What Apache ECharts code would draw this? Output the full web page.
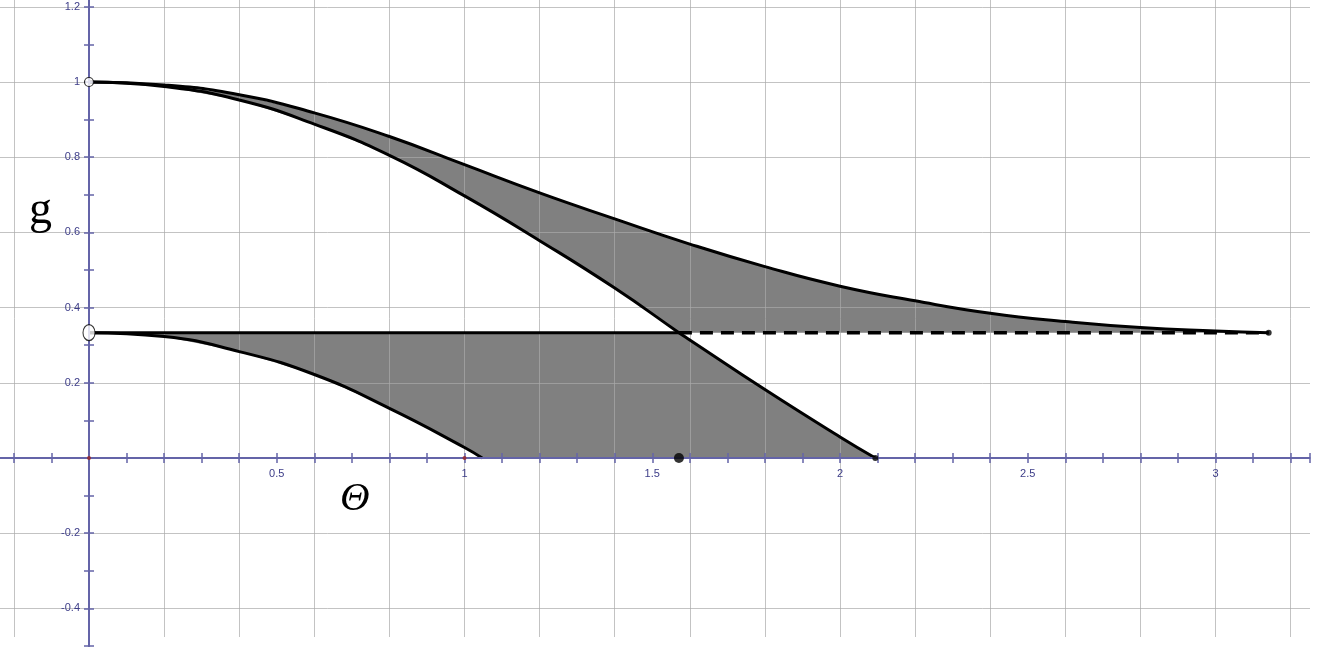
<!DOCTYPE html>
<html>
<head>
<meta charset="utf-8">
<title>g(θ)</title>
<script src="https://cdn.jsdelivr.net/npm/echarts@6/dist/echarts.min.js"></script>
<style>
  html, body { margin: 0; padding: 0; background: #fff; }
  #chart { width: 1321px; height: 648px; }
</style>
</head>
<body>
<div id="chart"></div>
<script>
// 读图得到的数据点
var thetaTop = [0, 0.2, 0.4, 0.6, 0.8, 1.0, 1.2, 1.4, 1.6, 1.8, 2.0, 2.2, 2.4, 2.6, 2.8, 3.0, 3.1416];
var gTop = [1.0, 0.992, 0.966, 0.918, 0.855, 0.780, 0.705, 0.636, 0.569, 0.509, 0.457, 0.418, 0.385, 0.363, 0.347, 0.338, 0.3333];

var thetaMid = [0, 0.2, 0.4, 0.6, 0.8, 1.0, 1.2, 1.4, 1.571, 1.6, 1.8, 2.0, 2.094];
var gMid = [1.0, 0.988, 0.952, 0.888, 0.805, 0.697, 0.578, 0.452, 0.3333, 0.314, 0.182, 0.056, 0];

var thetaLow = [0, 0.2, 0.4, 0.6, 0.8, 1.0, 1.047];
var gLow = [0.3333, 0.323, 0.283, 0.222, 0.132, 0.028, 0];

var thirdLevel = 0.3333;
var crossTheta = 1.571;
var endTheta = 3.1416;

// 点
var openPoints = [[0, 1]];
var openEllipse = [[0, 0.3333]];
var solidDot = [[1.571, 0]];
var endPoints = [[2.094, 0], [3.1416, 0.3333]];
var redPoints = [[0, 0], [1, 0]];

function pairs(xs, ys) {
    return xs.map(function (x, i) { return [x, ys[i]]; });
}

var topLine = pairs(thetaTop, gTop);
var midLine = pairs(thetaMid, gMid);
var lowLine = pairs(thetaLow, gLow);

// 上面的灰色区域：上曲线 -> 1/3 线 -> 中曲线（反向）
var upperShape = topLine.slice();
upperShape.push([crossTheta, thirdLevel]);
midLine.filter(function (p) { return p[0] < crossTheta; }).reverse().forEach(function (p) { upperShape.push(p); });

// 下面的灰色区域：1/3 线 -> 中曲线 -> x 轴 -> 下曲线（反向）
var lowerShape = [[0, thirdLevel], [crossTheta, thirdLevel]];
midLine.filter(function (p) { return p[0] > crossTheta; }).forEach(function (p) { lowerShape.push(p); });
lowLine.slice().reverse().forEach(function (p) { lowerShape.push(p); });

var chart = echarts.init(document.getElementById('chart'));

var axisColor = '#6464a8';
var labelColor = '#3c3c88';
var gridColor = 'rgba(170,170,170,0.7)';

function xLabel(v) {
    var r = Math.round(v * 10);
    return (r > 0 && r % 5 === 0) ? String(r / 10) : '';
}
function yLabel(v) {
    var r = Math.round(v * 10);
    return (r !== 0 && r % 2 === 0) ? String(r / 10) : '';
}

function shapeSeries(points) {
    return {
        type: 'custom',
        xAxisIndex: 0,
        yAxisIndex: 0,
        z: 1,
        silent: true,
        data: [[0, 0]],
        renderItem: function (params, api) {
            return {
                type: 'polygon',
                shape: { points: points.map(function (p) { return api.coord(p); }) },
                style: { fill: '#808080' }
            };
        }
    };
}

// 只画轴线和刻度的轴
function tickAxis(grid, pos, min, max) {
    return {
        type: 'value', gridIndex: grid, position: pos, min: min, max: max, interval: 0.1, z: 6,
        axisLine: { onZero: true, onZeroAxisIndex: 0, lineStyle: { color: axisColor, width: 2 } },
        axisTick: { inside: false, length: 5, lineStyle: { color: axisColor, width: 1.5 } },
        axisLabel: { show: false },
        splitLine: { show: false }
    };
}

// 只画文字的轴
function labelAxis(grid, pos, min, max, fmt, margin) {
    return {
        type: 'value', gridIndex: grid, position: pos, min: min, max: max, interval: 0.1, z: 6,
        axisLine: { show: false, onZero: false },
        axisTick: { show: false },
        axisLabel: { show: true, formatter: fmt, margin: margin, color: labelColor, fontSize: 11, fontFamily: 'Liberation Sans' },
        splitLine: { show: false }
    };
}

var option = {
    animation: false,
    backgroundColor: '#fff',
    grid: [
        // 主坐标系
        { left: -61.2, right: 11.6, top: -68.4, bottom: 2, outerBoundsMode: 'none' },
        // 横向网格线
        { left: 0, right: 11, top: -68.4, bottom: -35.6, outerBoundsMode: 'none' },
        // 纵向网格线
        { left: -61.2, right: -44.7, top: 0, bottom: 11, outerBoundsMode: 'none' },
        // x 轴文字，下边界在 y=0
        { left: -61.2, right: 11.6, top: 0, bottom: 190, outerBoundsMode: 'none' },
        // y 轴文字，左边界在 x=0
        { left: 89, right: 0, top: -68.4, bottom: 2, outerBoundsMode: 'none' }
    ],
    xAxis: [
        tickAxis(0, 'bottom', -0.4, 3.25),
        tickAxis(0, 'top', -0.4, 3.25),
        { type: 'value', gridIndex: 1, show: false, min: 0, max: 1 },
        {
            type: 'value', gridIndex: 2, min: -0.4, max: 3.4, interval: 0.2, z: 3,
            axisLine: { show: false }, axisTick: { show: false }, axisLabel: { show: false },
            splitLine: { show: true, lineStyle: { color: gridColor, width: 1 } }
        },
        labelAxis(3, 'bottom', -0.4, 3.25, xLabel, 10),
        { type: 'value', gridIndex: 4, show: false, min: 0, max: 1 }
    ],
    yAxis: [
        tickAxis(0, 'left', -0.5, 1.4),
        tickAxis(0, 'right', -0.5, 1.4),
        {
            type: 'value', gridIndex: 1, min: -0.6, max: 1.4, interval: 0.2, z: 3,
            axisLine: { show: false }, axisTick: { show: false }, axisLabel: { show: false },
            splitLine: { show: true, lineStyle: { color: gridColor, width: 1 } }
        },
        { type: 'value', gridIndex: 2, show: false, min: 0, max: 1 },
        { type: 'value', gridIndex: 3, show: false, min: 0, max: 1 },
        labelAxis(4, 'left', -0.5, 1.4, yLabel, 9)
    ],
    graphic: [
        { type: 'text', left: 29, top: 188, z: 10, style: { text: 'g', font: '46px "Liberation Serif"', fill: '#000' } },
        { type: 'text', left: 340, top: 479, z: 10, style: { text: 'Θ', font: 'italic 41px "Liberation Serif"', fill: '#000' } }
    ],
    series: [
        shapeSeries(upperShape),
        shapeSeries(lowerShape),
        {
            name: '上曲线', type: 'line', data: topLine, smooth: true, showSymbol: false, z: 5,
            lineStyle: { color: '#000', width: 3 }
        },
        {
            name: '中曲线', type: 'line', data: midLine, smooth: true, showSymbol: false, z: 5,
            lineStyle: { color: '#000', width: 3 }
        },
        {
            name: '下曲线', type: 'line', data: lowLine, smooth: true, showSymbol: false, z: 5,
            lineStyle: { color: '#000', width: 3 }
        },
        {
            name: '1/3 实线', type: 'line', data: [[0, thirdLevel], [crossTheta, thirdLevel]], showSymbol: false, z: 5,
            lineStyle: { color: '#000', width: 3 }
        },
        {
            name: '1/3 虚线', type: 'line', data: [[crossTheta, thirdLevel], [endTheta, thirdLevel]], showSymbol: false, z: 4,
            lineStyle: { color: '#000', width: 3.5, type: [13, 8] }
        },
        {
            type: 'scatter', data: redPoints, symbolSize: 4, z: 7,
            itemStyle: { color: '#9a2020' }
        },
        {
            type: 'scatter', data: endPoints, symbolSize: 6, z: 7,
            itemStyle: { color: '#000' }
        },
        {
            type: 'scatter', data: solidDot, symbolSize: 10, z: 7,
            itemStyle: { color: '#000' }
        },
        {
            type: 'scatter', data: openPoints, symbolSize: 9, z: 8,
            itemStyle: { color: '#fff', borderColor: '#000', borderWidth: 1.2 }
        },
        {
            type: 'scatter', data: openEllipse, symbolSize: [12, 16], z: 8,
            itemStyle: { color: '#fff', borderColor: '#000', borderWidth: 1.2 }
        }
    ]
};

chart.setOption(option);

window.onresize = function () {
    chart.resize();
};
</script>
</body>
</html>
